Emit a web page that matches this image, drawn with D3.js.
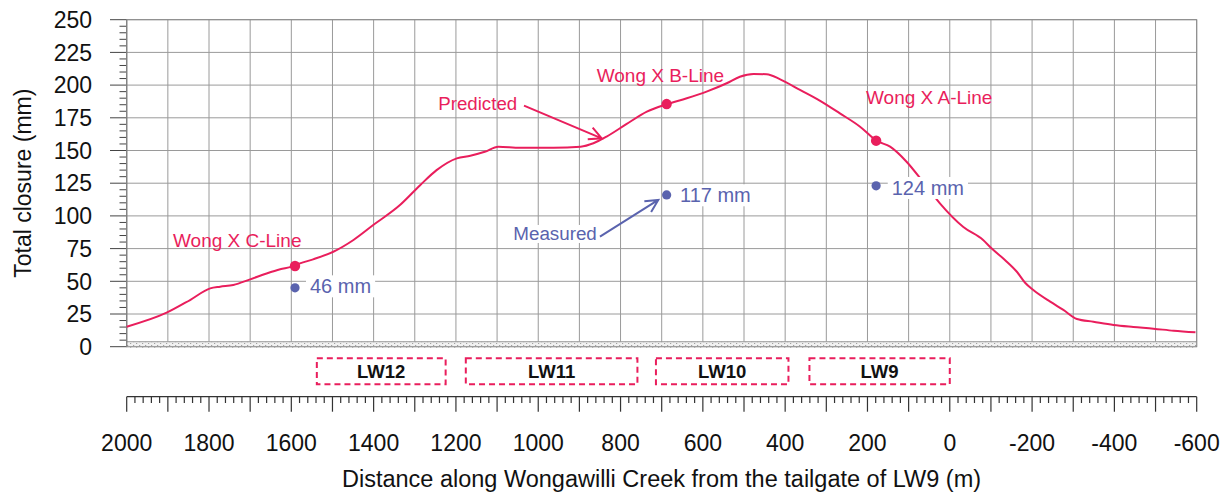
<!DOCTYPE html>
<html><head><meta charset="utf-8">
<script src="https://cdn.jsdelivr.net/npm/d3@7"></script>
<style>
html,body{margin:0;padding:0;background:#fff;}
svg{display:block;font-family:"Liberation Sans",Arial,Helvetica,sans-serif;}
</style></head>
<body>
<svg id="chart" width="1229" height="496"></svg>
<script>
// ---- data ----
const predictedDist = [2000,1903,1846,1797,1773,1741,1700,1660,1627,1599,1579,1547,1498,1449,1401,1336,1287,1247,1198,1165,1130,1097,1044,963,897,866,834,785,736,689,639,591,542,510,477,445,412,364,315,267,218,178,145,105,65,24,-33,-81,-102,-134,-163,-183,-203,-244,-276,-309,-349,-398,-446,-495,-544,-597];
const predictedVal  = [15.3,26,35.7,44.6,45.9,47.2,51.5,56,59.2,61.2,63.7,66.8,72.6,81.6,93,108.3,123.5,135,144,146,149,152.9,152.1,152.1,152.9,155.5,160.6,170.3,179.7,185.3,189.9,195,201.4,206.4,208.5,208.3,204.4,196.3,188,178.4,168.2,157.5,152.9,141.4,126,109.6,91.5,81.6,75,66.3,57.3,48.9,43.3,34.4,28.1,21.2,19.1,16.6,15.1,13.8,12.2,11];

const sites = ["Wong X C-Line","Wong X B-Line","Wong X A-Line"];
const siteDist = [1591, 688, 179];
const sitePredicted = [61.7, 185.5, 157.5];
const siteMeasured = [45, 116, 123];
const measuredLabels = ["46 mm","117 mm","124 mm"];

const panels = ["LW12","LW11","LW10","LW9"];
const panelStart = [1538, 1176, 714, 341];
const panelEnd = [1225, 759, 392, 0];

const yTicks = [0,25,50,75,100,125,150,175,200,225,250];
const xTickLabels = [2000,1800,1600,1400,1200,1000,800,600,400,200,0,-200,-400,-600];

const xTitle = "Distance along Wongawilli Creek from the tailgate of LW9 (m)";
const yTitle = "Total closure (mm)";

// ---- setup ----
const PINK = "#e91e5c", BLUE = "#5a63ae", GRID = "#9a9a9a";
const svg = d3.select("#chart");
const x = d3.scaleLinear().domain([2000,-600]).range([126.7,1196.7]);
const y = d3.scaleLinear().domain([0,250]).range([346.7,19.7]);
const xAxisY = 396.7;

// grid
const g = svg.append("g");
g.selectAll("line.vg").data(d3.range(2000,-601,-100)).join("line")
  .attr("x1",d=>x(d)).attr("x2",d=>x(d)).attr("y1",y(250)).attr("y2",y(0))
  .attr("stroke",GRID).attr("stroke-width",1);
g.selectAll("line.hg").data(yTicks).join("line")
  .attr("x1",x(2000)).attr("x2",x(-600)).attr("y1",d=>y(d)).attr("y2",d=>y(d))
  .attr("stroke",GRID).attr("stroke-width",1);

// hatched band
const defs = svg.append("defs");
const pat = defs.append("pattern").attr("id","dots").attr("patternUnits","userSpaceOnUse")
  .attr("width",6).attr("height",4);
pat.append("rect").attr("width",6).attr("height",4).attr("fill","#f1f1f1");
pat.append("rect").attr("x",1).attr("y",1).attr("width",1.2).attr("height",1.2).attr("fill","#a0a0a0");
pat.append("rect").attr("x",4).attr("y",3).attr("width",1.2).attr("height",1.2).attr("fill","#a0a0a0");
svg.append("rect").attr("x",x(2000)).attr("width",x(-600)-x(2000))
  .attr("y",y(3.8)).attr("height",y(0)-y(3.8)+1).attr("fill","url(#dots)");
svg.append("line").attr("x1",x(2000)).attr("x2",x(-600)).attr("y1",y(3.8)).attr("y2",y(3.8))
  .attr("stroke","#999").attr("stroke-width",1);

// left axis ticks
const yl = svg.append("g");
yl.append("line").attr("x1",x(2000)).attr("x2",x(2000)).attr("y1",y(250)).attr("y2",y(0)).attr("stroke","#555");
yl.selectAll("line.mn").data(d3.range(0,251,5)).join("line")
  .attr("x1",d=>d%25===0?110:119.5).attr("x2",x(2000)).attr("y1",d=>y(d)).attr("y2",d=>y(d))
  .attr("stroke","#444").attr("stroke-width",1);
yl.selectAll("text").data(yTicks).join("text")
  .attr("x",92).attr("y",d=>y(d)).attr("dy","0.36em").attr("text-anchor","end")
  .attr("font-size",23).attr("fill","#111").text(d=>d);
svg.append("text").attr("transform",`translate(31,${(y(0)+y(250))/2}) rotate(-90)`)
  .attr("text-anchor","middle").attr("font-size",23).attr("fill","#111").text(yTitle);

// bottom axis
const xb = svg.append("g");
xb.append("line").attr("x1",x(2000)).attr("x2",x(-600)).attr("y1",xAxisY).attr("y2",xAxisY).attr("stroke","#333").attr("stroke-width",1.3);
xb.selectAll("line.t").data(d3.range(2000,-601,-20)).join("line")
  .attr("x1",d=>x(d)).attr("x2",d=>x(d)).attr("y1",xAxisY)
  .attr("y2",d=>d%100===0?411.7:403).attr("stroke","#333").attr("stroke-width",1.2);
xb.selectAll("text").data(xTickLabels).join("text")
  .attr("x",d=>x(d)).attr("y",450.7).attr("text-anchor","middle")
  .attr("font-size",23).attr("fill","#111").text(d=>d);
svg.append("text").attr("x",(340+983)/2).attr("y",486.5).attr("text-anchor","middle")
  .attr("font-size",23.5).attr("fill","#111").text(xTitle);

// plot border
svg.append("rect").attr("x",x(2000)).attr("y",y(250)).attr("width",x(-600)-x(2000)).attr("height",y(0)-y(250))
  .attr("fill","none").attr("stroke","#8a8a8a").attr("stroke-width",1);

// predicted curve
const pts = predictedDist.map((d,i)=>[d,predictedVal[i]]);
svg.append("path").datum(pts)
  .attr("d",d3.line().x(d=>x(d[0])).y(d=>y(d[1])).curve(d3.curveMonotoneX))
  .attr("fill","none").attr("stroke",PINK).attr("stroke-width",2);

// predicted points
svg.selectAll("circle.p").data(siteDist).join("circle")
  .attr("cx",d=>x(d)).attr("cy",(d,i)=>y(sitePredicted[i])).attr("r",5.2).attr("fill",PINK);

// site labels
const siteLabelPos = [[1887.5,76.5],[858,202.6],[203.6,185.6]];
svg.selectAll("text.site").data(sites).join("text")
  .attr("x",(d,i)=>x(siteLabelPos[i][0])).attr("y",(d,i)=>y(siteLabelPos[i][1]))
  .attr("font-size",19).attr("fill",PINK).text(d=>d);

// measured labels with white boxes
const measLabelPos = [[1554.6,40.8],[655.5,110.4],[141,116]];
measuredLabels.forEach((t,i)=>{
  const grp = svg.append("g");
  const bg = grp.append("rect").attr("fill","#fff");
  const tx = grp.append("text").attr("x",x(measLabelPos[i][0])).attr("y",y(measLabelPos[i][1]))
    .attr("font-size",20).attr("fill",BLUE).text(t);
  const b = tx.node().getBBox();
  bg.attr("x",b.x-4).attr("y",b.y).attr("width",b.width+8).attr("height",b.height);
});
svg.selectAll("circle.m").data(siteDist).join("circle")
  .attr("cx",d=>x(d)).attr("cy",(d,i)=>y(siteMeasured[i])).attr("r",4.6).attr("fill",BLUE);

// annotations with arrows
function arrow(from,to,color){
  const x0=x(from[0]),y0=y(from[1]),x1=x(to[0]),y1=y(to[1]);
  const a=Math.atan2(y1-y0,x1-x0), L=14, w=27*Math.PI/180;
  const p = d3.path();
  p.moveTo(x0,y0); p.lineTo(x1,y1);
  p.moveTo(x1-L*Math.cos(a-w),y1-L*Math.sin(a-w)); p.lineTo(x1,y1);
  p.lineTo(x1-L*Math.cos(a+w),y1-L*Math.sin(a+w));
  svg.append("path").attr("d",p.toString()).attr("fill","none").attr("stroke",color)
    .attr("stroke-width",2).attr("stroke-linejoin","miter");
}
svg.append("text").attr("x",x(1243)).attr("y",y(181)).attr("font-size",18.7).attr("fill",PINK).text("Predicted");
arrow([1034.6,184.3],[845.8,159.3],PINK);

const mg = svg.append("g");
const mbg = mg.append("rect").attr("fill","#fff");
const mt = mg.append("text").attr("x",x(1060.6)).attr("y",y(81.6)).attr("font-size",18.8).attr("fill",BLUE).text("Measured");
const mb = mt.node().getBBox();
mbg.attr("x",mb.x-1).attr("y",mb.y+2).attr("width",mb.width+2).attr("height",mb.height-3);
arrow([850,84.1],[708.3,112.2],BLUE);

// LW panels
panels.forEach((p,i)=>{
  const x0=x(panelStart[i]), x1=x(panelEnd[i]);
  svg.append("rect").attr("x",x0).attr("y",358.3).attr("width",x1-x0).attr("height",26)
    .attr("fill","none").attr("stroke",PINK).attr("stroke-width",2).attr("stroke-dasharray","6,4");
  svg.append("text").attr("x",(x0+x1)/2).attr("y",378).attr("text-anchor","middle")
    .attr("font-size",18.5).attr("font-weight","bold").attr("fill","#111").text(p);
});
</script>
</body></html>
